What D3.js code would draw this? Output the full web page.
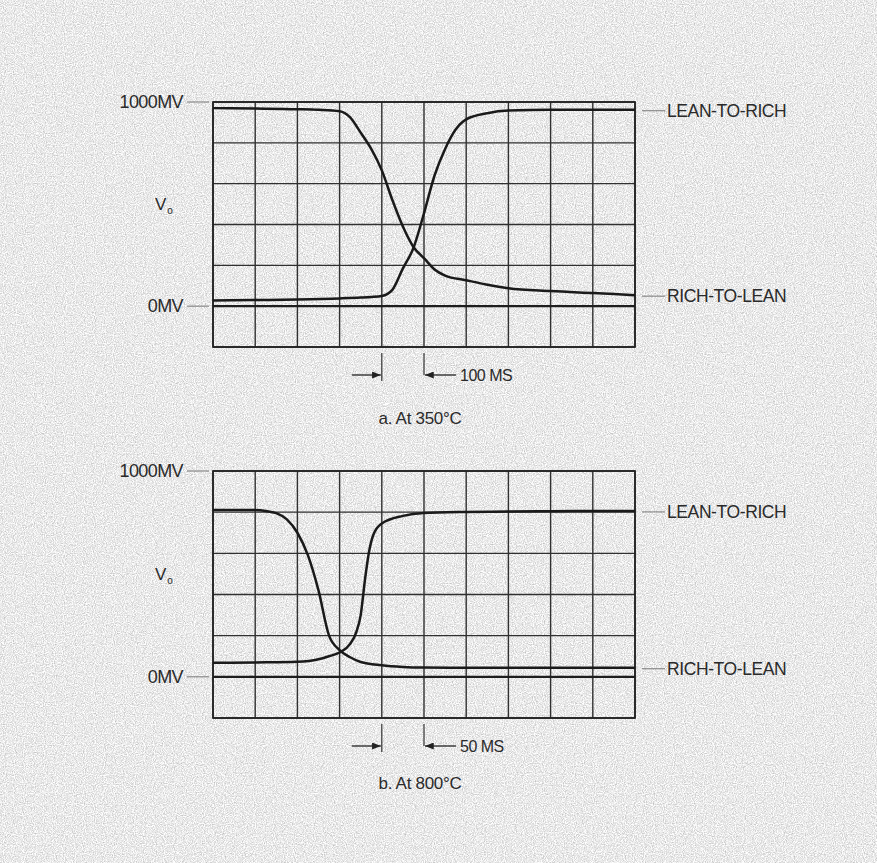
<!DOCTYPE html>
<html>
<head>
<meta charset="utf-8">
<script src="https://cdn.jsdelivr.net/npm/d3@7"></script>
<style>
  body { margin: 0; background: #e9e9e9; }
  svg text { font-family: "Liberation Sans", Arial, sans-serif; fill: #2a2a2a; }
</style>
</head>
<body>
<svg id="chart" width="877" height="863"></svg>
<script>
// a. at 350 C  (time in ms, voltage in mV)
const timeTopFall = [0, 100, 200, 250, 300, 325, 350, 375, 400, 425, 450, 475, 500, 525, 550, 600, 650, 700, 800, 900, 1000];
const richToLeanTop = [970, 968, 965, 962, 955, 925, 850, 770, 665, 520, 390, 290, 235, 180, 150, 127, 105, 88, 74, 64, 54];
const timeTopRise = [0, 100, 200, 300, 350, 375, 400, 425, 450, 475, 500, 525, 550, 575, 600, 650, 700, 800, 900, 1000];
const leanToRichTop = [28, 30, 33, 38, 42, 45, 50, 80, 185, 285, 455, 640, 770, 865, 915, 945, 958, 962, 962, 962];

// b. at 800 C
const timeBotFall = [0, 50, 62.5, 75, 87.5, 100, 112.5, 125, 137.5, 150, 162.5, 175, 200, 225, 250, 300, 350, 400, 450, 500];
const richToLeanBot = [811, 810, 806, 795, 765, 700, 590, 420, 200, 130, 95, 72, 56, 48, 45, 44, 44, 44, 44, 44];
const timeBotRise = [0, 50, 100, 125, 137.5, 150, 162.5, 170, 175, 180, 185, 190, 200, 225, 250, 300, 350, 400, 450, 500];
const leanToRichBot = [68, 70, 73, 85, 100, 118, 160, 220, 300, 470, 610, 690, 745, 782, 796, 801, 803, 805, 806, 806];

const voltTicks = [1000, 0];
const voltLabels = ["1000MV", "0MV"];

const panels = [
  { top: 102, bottom: 347, maxT: 1000, step: 100,
    fall: [timeTopFall, richToLeanTop], rise: [timeTopRise, leanToRichTop],
    span: "100 MS", caption: "a. At 350°C", captionY: 418 },
  { top: 471, bottom: 718, maxT: 500, step: 50,
    fall: [timeBotFall, richToLeanBot], rise: [timeBotRise, leanToRichBot],
    span: "50 MS", caption: "b. At 800°C", captionY: 783 }
];

const svg = d3.select("#chart");
const defs = svg.append("defs");

// speckled paper background
const paper = defs.append("filter").attr("id", "paper")
  .attr("x", 0).attr("y", 0).attr("width", "100%").attr("height", "100%")
  .attr("color-interpolation-filters", "sRGB");
paper.append("feTurbulence").attr("type", "fractalNoise")
  .attr("baseFrequency", 0.9).attr("numOctaves", 2).attr("seed", 4).attr("result", "n");
paper.append("feColorMatrix").attr("in", "n").attr("type", "matrix")
  .attr("values", "0.45 0 0 0 0.69  0.45 0 0 0 0.69  0.45 0 0 0 0.69  0 0 0 0 1");
svg.append("rect").attr("width", 877).attr("height", 863).attr("filter", "url(#paper)");

defs.append("marker").attr("id", "arrow")
  .attr("viewBox", "0 0 10 8").attr("refX", 10).attr("refY", 4)
  .attr("markerWidth", 10).attr("markerHeight", 7)
  .attr("markerUnits", "userSpaceOnUse").attr("orient", "auto")
  .append("path").attr("d", "M0,0L10,4L0,8Z").attr("fill", "#222");

panels.forEach(drawPanel);

function drawPanel(p) {
  const x = d3.scaleLinear().domain([0, p.maxT]).range([213, 635]);
  const y = d3.scaleLinear().domain([-200, 1000]).range([p.bottom, p.top]);
  const g = svg.append("g");

  // grid
  g.append("g").selectAll("line")
    .data(d3.range(0, p.maxT + 1, p.step))
    .join("line")
    .attr("x1", (d) => x(d)).attr("x2", (d) => x(d))
    .attr("y1", y(1000)).attr("y2", y(-200))
    .attr("stroke", "#303030").attr("stroke-width", 1.4);
  g.append("g").selectAll("line")
    .data(d3.range(-200, 1001, 200))
    .join("line")
    .attr("x1", x(0)).attr("x2", x(p.maxT))
    .attr("y1", (d) => y(d)).attr("y2", (d) => y(d))
    .attr("stroke", "#303030").attr("stroke-width", 1.4);
  g.append("rect")
    .attr("x", x(0)).attr("y", y(1000))
    .attr("width", x(p.maxT) - x(0)).attr("height", y(-200) - y(1000))
    .attr("fill", "none").attr("stroke", "#222").attr("stroke-width", 1.7);

  // zero trace
  g.append("line")
    .attr("x1", x(0)).attr("x2", x(p.maxT))
    .attr("y1", y(0)).attr("y2", y(0))
    .attr("stroke", "#1e1e1e").attr("stroke-width", 2.2);

  const line = d3.line()
    .x((d) => x(d[0]))
    .y((d) => y(d[1]))
    .curve(d3.curveMonotoneX);

  [p.fall, p.rise].forEach(function (s) {
    g.append("path")
      .datum(d3.zip(s[0], s[1]))
      .attr("d", line)
      .attr("fill", "none")
      .attr("stroke", "#1a1a1a")
      .attr("stroke-width", 2.5);
  });

  // left voltage labels
  voltTicks.forEach(function (v, i) {
    g.append("line")
      .attr("x1", 187).attr("x2", 209)
      .attr("y1", y(v)).attr("y2", y(v))
      .attr("stroke", "#777").attr("stroke-width", 1);
    g.append("text")
      .attr("x", 183).attr("y", y(v))
      .attr("text-anchor", "end").attr("dominant-baseline", "central")
      .attr("font-size", 18).attr("letter-spacing", -0.6)
      .text(voltLabels[i]);
  });

  const vo = g.append("text")
    .attr("x", 155).attr("y", y(500))
    .attr("dominant-baseline", "central")
    .attr("font-size", 17);
  vo.append("tspan").text("V");
  vo.append("tspan").attr("font-size", 10).attr("dy", 6).attr("dx", 1).text("o");

  // right series labels
  const ends = [
    [p.rise[1][p.rise[1].length - 1], "LEAN-TO-RICH"],
    [p.fall[1][p.fall[1].length - 1], "RICH-TO-LEAN"]
  ];
  ends.forEach(function (e) {
    const yy = y(e[0]) + 1;
    g.append("line")
      .attr("x1", 642).attr("x2", 665)
      .attr("y1", yy).attr("y2", yy)
      .attr("stroke", "#777").attr("stroke-width", 1);
    g.append("text")
      .attr("x", 667).attr("y", yy)
      .attr("dominant-baseline", "central")
      .attr("font-size", 17.5).attr("letter-spacing", -0.4)
      .text(e[1]);
  });

  // time span marker between two grid lines
  const xa = x(4 * p.step), xb = x(5 * p.step);
  const b = y(-200);
  const ay = b + 28;
  g.append("line").attr("x1", xa).attr("x2", xa).attr("y1", b + 6).attr("y2", b + 34)
    .attr("stroke", "#333").attr("stroke-width", 1.2);
  g.append("line").attr("x1", xb).attr("x2", xb).attr("y1", b + 6).attr("y2", ay)
    .attr("stroke", "#333").attr("stroke-width", 1.2);
  g.append("line").attr("x1", xa - 30).attr("x2", xa - 1).attr("y1", ay).attr("y2", ay)
    .attr("stroke", "#222").attr("stroke-width", 1.3).attr("marker-end", "url(#arrow)");
  g.append("line").attr("x1", xb + 32).attr("x2", xb + 1).attr("y1", ay).attr("y2", ay)
    .attr("stroke", "#222").attr("stroke-width", 1.3).attr("marker-end", "url(#arrow)");
  g.append("text")
    .attr("x", xb + 36).attr("y", ay)
    .attr("dominant-baseline", "central")
    .attr("font-size", 16).attr("letter-spacing", -0.5)
    .text(p.span);

  g.append("text")
    .attr("x", 420).attr("y", p.captionY)
    .attr("text-anchor", "middle").attr("dominant-baseline", "central")
    .attr("font-size", 17).attr("letter-spacing", -0.3)
    .text(p.caption);
}
</script>
</body>
</html>
